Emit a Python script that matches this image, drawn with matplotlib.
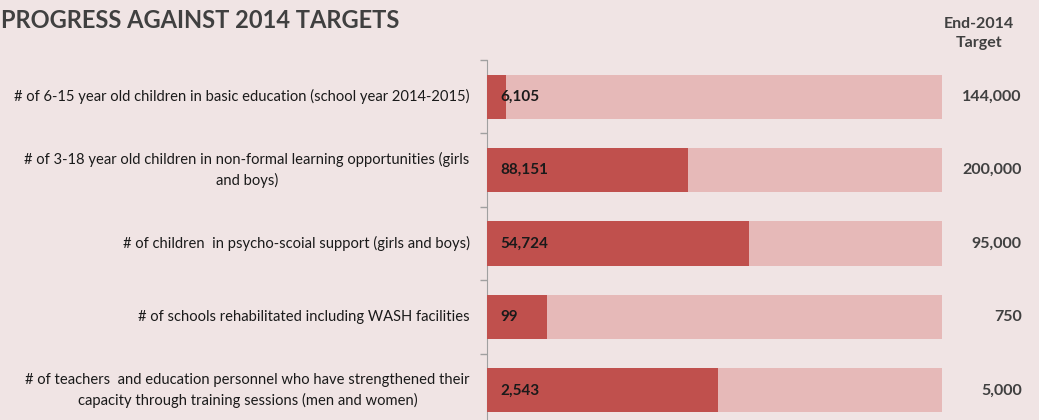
import matplotlib.pyplot as plt
import numpy as np

# data
indicators = [
    "# of 6-15 year old children in basic education (school year 2014-2015)",
    "# of 3-18 year old children in non-formal learning opportunities (girls\nand boys)",
    "# of children  in psycho-scoial support (girls and boys)",
    "# of schools rehabilitated including WASH facilities",
    "# of teachers  and education personnel who have strengthened their\ncapacity through training sessions (men and women)",
]
achieved = [6105, 88151, 54724, 99, 2543]
targets = [144000, 200000, 95000, 750, 5000]

BG = "#f0e4e4"
DARK = "#c0504d"
LIGHT = "#e6b9b8"
TXT = "#404040"

plt.rcParams['font.family'] = ['Lato', 'DejaVu Sans']

fig = plt.figure(figsize=(10.39, 4.2), dpi=100, facecolor=BG)
ax = fig.add_axes([487 / 1039, -7 / 420, 455 / 1039, 367 / 420])
ax.set_facecolor(BG)

y = np.arange(len(indicators))
pct = [a / t * 100 for a, t in zip(achieved, targets)]

ax.barh(y, [100] * len(y), height=0.6, color=LIGHT, zorder=2)
ax.barh(y, pct, height=0.6, color=DARK, zorder=3)

for i in y:
    ax.text(3, i, f"{achieved[i]:,}", ha='left', va='center', fontsize=11,
            fontweight='bold', color='#1a1a1a', zorder=4)
    ax.text(-3.8, i, indicators[i], ha='right', va='center', fontsize=10.6,
            color='#1a1a1a', linespacing=1.5, multialignment='center')
    ax.text(117.5, i, f"{targets[i]:,}", ha='right', va='center',
            fontsize=11.5, fontweight='bold', color=TXT)

ax.set_xlim(0, 100)
ax.set_ylim(4.5, -0.5)
ax.set_xticks([])
ax.set_yticks(np.arange(-0.5, 5, 1))
ax.set_yticklabels([])
ax.tick_params(axis='y', length=5, color='#a0a0a0', width=1)
for s in ['top', 'right', 'bottom']:
    ax.spines[s].set_visible(False)
ax.spines['left'].set_color('#a0a0a0')

fig.text(0.001, 0.95, "PROGRESS AGAINST 2014 TARGETS", fontsize=17,
         fontweight='bold', color=TXT, ha='left', va='center')
fig.text(979 / 1039, 0.92, "End-2014\nTarget", fontsize=11.5,
         fontweight='bold', color=TXT, ha='center', va='center',
         linespacing=1.4)

fig.savefig("out.png", dpi=100, facecolor=BG)
